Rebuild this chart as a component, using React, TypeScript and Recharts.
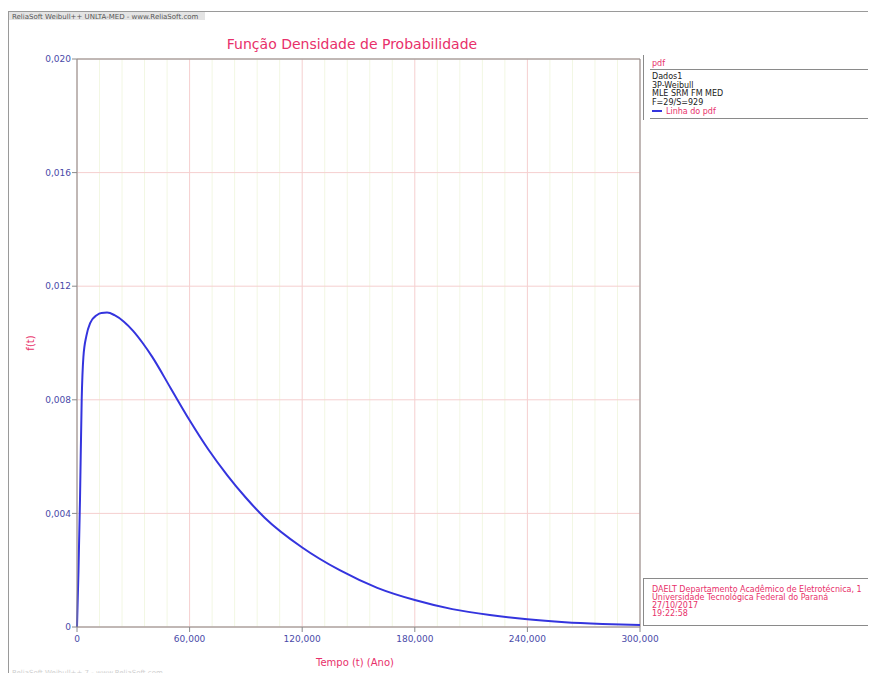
import React from 'react';
import { LineChart, Line, XAxis, YAxis, CartesianGrid, ReferenceLine } from 'recharts';

const tempo = [0, 800, 1600, 2500, 3400, 5000, 7000, 10500, 13000, 16000, 20000, 25000, 30000, 35000, 40000, 50000, 60000, 70000, 80000, 90000, 100000, 120000, 140000, 160000, 180000, 200000, 220000, 240000, 260000, 280000, 300000];
const densidade = [0, 0.002, 0.0045, 0.008, 0.0095, 0.01025, 0.0107, 0.01098, 0.01106, 0.01107, 0.01098, 0.01075, 0.01042, 0.01, 0.00952, 0.0084, 0.00728, 0.00625, 0.00535, 0.00455, 0.00385, 0.0028, 0.002, 0.00138, 0.00095, 0.00063, 0.00042, 0.00027, 0.00017, 0.00011, 0.00007];

const xTicks = [0, 60000, 120000, 180000, 240000, 300000];
const yTicks = [0, 0.004, 0.008, 0.012, 0.016, 0.02];
const xMinor = [12000, 24000, 36000, 48000, 72000, 84000, 96000, 108000, 132000, 144000, 156000, 168000, 192000, 204000, 216000, 228000, 252000, 264000, 276000, 288000];
const yMinor = [0.0008, 0.0016, 0.0024, 0.0032, 0.0048, 0.0056, 0.0064, 0.0072, 0.0088, 0.0096, 0.0104, 0.0112, 0.0128, 0.0136, 0.0144, 0.0152, 0.0168, 0.0176, 0.0184, 0.0192];

const legendLines = ['Dados1', '3P-Weibull', 'MLE SRM FM MED', 'F=29/S=929'];
const footerLines = ['DAELT Departamento Acadêmico de Eletrotécnica, 1', 'Universidade Tecnológica Federal do Paraná', '27/10/2017', '19:22:58'];

const data = tempo.map((t, i) => ({ t, f: densidade[i] }));

const RED = '#e8306a';
const TICK = '#4a4aa8';
const FONT = 'DejaVu Sans, Verdana, sans-serif';

const fmtX = (v: number) => (v === 0 ? '0' : v.toLocaleString('en-US'));
const fmtY = (v: number) => (v === 0 ? '0' : v.toFixed(3).replace('.', ','));

export default function App() {
  return (
    <div style={{ position: 'relative', width: 876, height: 681, margin: -8, background: '#fff', fontFamily: FONT }}>
      <div style={{ position: 'absolute', left: 0, top: 0 }}>
        <LineChart width={876} height={681} data={data} margin={{ top: 59, right: 236, bottom: 24, left: 17 }}>
          <XAxis xAxisId="minor" dataKey="t" type="number" domain={[0, 300000]} ticks={xMinor} interval={0} hide />
          <YAxis yAxisId="minor" type="number" domain={[0, 0.02]} ticks={yMinor} interval={0} hide />
          <CartesianGrid xAxisId="minor" yAxisId="minor" stroke="#f2f7e3" strokeWidth={1} />
          <CartesianGrid stroke="#f5cfcf" strokeWidth={1} />
          <XAxis
            dataKey="t"
            type="number"
            domain={[0, 300000]}
            ticks={xTicks}
            tickFormatter={fmtX}
            height={30}
            interval={0}
            stroke="#8a8a8a"
            tickSize={5}
            tickMargin={4}
            tick={{ fill: TICK, fontSize: 9, fontFamily: FONT }}
          />
          <YAxis
            type="number"
            domain={[0, 0.02]}
            ticks={yTicks}
            tickFormatter={fmtY}
            width={60}
            interval={0}
            stroke="#8a8a8a"
            tickSize={5}
            tickMargin={1}
            tick={{ fill: TICK, fontSize: 9, fontFamily: FONT }}
          />
          <ReferenceLine y={0.02} stroke="#8a8a8a" />
          <ReferenceLine x={300000} stroke="#8a8a8a" />
          <Line
            type="monotone"
            dataKey="f"
            stroke="#3434de"
            strokeWidth={2}
            dot={false}
            isAnimationActive={false}
          />
        </LineChart>
      </div>
      <svg width={876} height={681} style={{ position: 'absolute', left: 0, top: 0, pointerEvents: 'none' }} fontFamily={FONT}>
        <rect x={8.5} y={11.5} width={867} height={667} fill="none" stroke="#9a9a9a" />
        <rect x={9} y={12} width={196} height={8} fill="#e4e4e4" />
        <text x={12} y={19} fontSize={7} fill="#555">ReliaSoft Weibull++ UNLTA-MED - www.ReliaSoft.com</text>
        <text x={352} y={49} fontSize={14} fill={RED} textAnchor="middle">Função Densidade de Probabilidade</text>
        <text x={355} y={666} fontSize={10} fill={RED} textAnchor="middle">Tempo (t) (Ano)</text>
        <text x={0} y={0} fontSize={10} fill={RED} textAnchor="middle" transform="translate(34,343) rotate(-90)">f(t)</text>
        <text x={12} y={675} fontSize={7} fill="#cfcfcf">ReliaSoft Weibull++ 7 - www.ReliaSoft.com</text>

        <rect x={643} y={55} width={240} height={65} fill="#fff" />
        <line x1={643.5} y1={55} x2={643.5} y2={120} stroke="#8a8a8a" />
        <text x={652} y={66} fontSize={8} fill={RED}>pdf</text>
        <line x1={650} y1={69.5} x2={876} y2={69.5} stroke="#8a8a8a" />
        {legendLines.map((s, i) => (
          <text key={s} x={652} y={79 + i * 8.5} fontSize={8} fill="#222">{s}</text>
        ))}
        <line x1={652} y1={111} x2={662} y2={111} stroke="#3434de" strokeWidth={2} />
        <text x={666} y={114} fontSize={8} fill={RED}>Linha do pdf</text>
        <line x1={650} y1={118.5} x2={876} y2={118.5} stroke="#8a8a8a" />

        <rect x={643} y={578} width={240} height={47} fill="#fff" />
        <line x1={643.5} y1={578} x2={643.5} y2={626} stroke="#8a8a8a" />
        <line x1={643} y1={578.5} x2={876} y2={578.5} stroke="#8a8a8a" />
        {footerLines.map((s, i) => (
          <text key={s} x={652} y={592 + i * 8} fontSize={8} fill={RED}>{s}</text>
        ))}
        <line x1={643} y1={625.5} x2={876} y2={625.5} stroke="#8a8a8a" />
      </svg>
    </div>
  );
}
